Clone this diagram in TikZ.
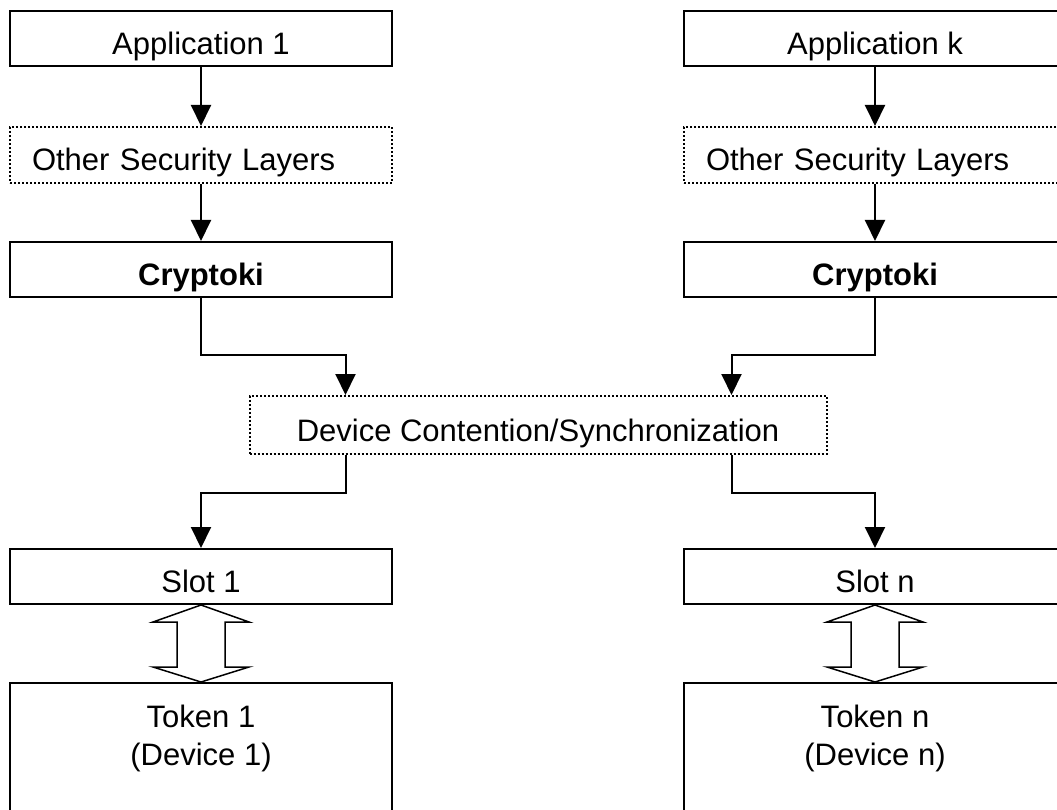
\documentclass[tikz,border=0pt]{standalone}
\usepackage{fontspec}
\setmainfont{Liberation Sans}
\usetikzlibrary{positioning}
\usetikzlibrary{calc}
\usetikzlibrary{arrows.meta}
\tikzset{
  box/.style      = { rectangle, minimum width=382pt, minimum height=55pt, inner sep=0pt,
                      text height=32pt, text depth=0pt },
  border/.style   = { line width=2pt, draw=black },
  dots/.style     = { line width=2pt, draw=black, dash pattern=on 2pt off 2pt },
}
\tikzset{
  layer/.style    = { box, border },
  optional/.style = { box, dots, minimum height=56pt },
  shim/.style     = { optional, text width=338pt, align=left },
  device/.style   = { box, border, minimum height=150pt, text height=32pt, text depth=94pt },
  hollow/.style   = { draw=black, line width=1.5pt, fill=white, line join=miter }
}

\begin{document}
\begin{tikzpicture}[
  x=1pt, y=1pt,
  >={Triangle[length=21pt,width=20pt]}, line width=2pt,
  font=\fontsize{31pt}{38pt}\selectfont
]
  \useasboundingbox (0,0) rectangle (1057,-810);
  \clip (0,0) rectangle (1057,-810);

  \node (app1)  [layer] at (201,-38.5)            {Application 1};
  \node (osl1)  [shim,below=59pt of app1]         {Other Security Layers};
  \node (cry1)  [layer,below=57pt of osl1]        {\bfseries Cryptoki};
  \node (slot1) [layer,below=250pt of cry1]       {Slot 1};
  \node (tok1)  [device,below=77pt of slot1]
        {\begin{tabular}[t]{@{}c@{}}Token 1\\(Device 1)\end{tabular}};

  \node (appk)  [layer] at (875,-38.5)            {Application k};
  \node (oslk)  [shim,below=59pt of appk]         {Other Security Layers};
  \node (cryk)  [layer,below=57pt of oslk]        {\bfseries Cryptoki};
  \node (slotn) [layer,below=250pt of cryk]       {Slot n};
  \node (tokn)  [device,below=77pt of slotn]
        {\begin{tabular}[t]{@{}c@{}}Token n\\(Device n)\end{tabular}};

  \coordinate (mid) at ($(cry1.south)!.5!(cryk.south)$);
  \node (dev) [optional,minimum width=577pt,minimum height=58pt,below=97pt of mid]
        {Device Contention/Synchronization};

  \coordinate (in1)  at ($(dev.north west)+(97,0)$);
  \coordinate (ink)  at ($(dev.north east)+(-96,0)$);
  \coordinate (out1) at ($(dev.south west)+(97,0)$);
  \coordinate (outk) at ($(dev.south east)+(-96,0)$);

  \draw [->] (app1) -- (osl1);
  \draw [->] (osl1) -- (cry1);
  \draw [->] (appk) -- (oslk);
  \draw [->] (oslk) -- (cryk);

  \draw [->] (cry1.south) -- ++(0,-57) -| (in1);
  \draw [->] (cryk.south) -- ++(0,-57) -| (ink);
  \draw [->] (out1) -- ++(0,-38) -| (slot1.north);
  \draw [->] (outk) -- ++(0,-38) -| (slotn.north);

  % slot <-> token
  \draw [hollow] (slot1.south) -- ++(48,-17) -- ++(-24,0)
        -- ($(tok1.north)+(24,15)$) -- ++(24,0) -- (tok1.north)
        -- ++(-48,15) -- ++(24,0) -- ($(slot1.south)+(-24,-17)$) -- ++(-24,0) -- cycle;
  \draw [hollow] (slotn.south) -- ++(48,-17) -- ++(-24,0)
        -- ($(tokn.north)+(24,15)$) -- ++(24,0) -- (tokn.north)
        -- ++(-48,15) -- ++(24,0) -- ($(slotn.south)+(-24,-17)$) -- ++(-24,0) -- cycle;

\end{tikzpicture}
\end{document}
